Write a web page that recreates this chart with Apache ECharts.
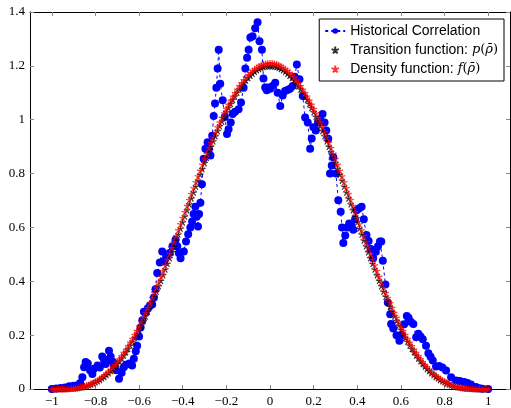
<!DOCTYPE html>
<html><head><meta charset="utf-8">
<script src="https://cdn.jsdelivr.net/npm/echarts@6/dist/echarts.min.js"></script>
<style>html,body{margin:0;padding:0;background:#fff}#c{width:511px;height:408px}</style>
</head><body><div id="c"></div>
<script>
// abscissa grid for the two fitted curves (step 0.01)
const rhoGrid = [-1,-0.99,-0.98,-0.97,-0.96,-0.95,-0.94,-0.93,-0.92,-0.91,-0.9,-0.89,-0.88,-0.87,-0.86,-0.85,-0.84,-0.83,-0.82,-0.81,-0.8,-0.79,-0.78,-0.77,-0.76,-0.75,-0.74,-0.73,-0.72,-0.71,-0.7,-0.69,-0.68,-0.67,-0.66,-0.65,-0.64,-0.63,-0.62,-0.61,-0.6,-0.59,-0.58,-0.57,-0.56,-0.55,-0.54,-0.53,-0.52,-0.51,-0.5,-0.49,-0.48,-0.47,-0.46,-0.45,-0.44,-0.43,-0.42,-0.41,-0.4,-0.39,-0.38,-0.37,-0.36,-0.35,-0.34,-0.33,-0.32,-0.31,-0.3,-0.29,-0.28,-0.27,-0.26,-0.25,-0.24,-0.23,-0.22,-0.21,-0.2,-0.19,-0.18,-0.17,-0.16,-0.15,-0.14,-0.13,-0.12,-0.11,-0.1,-0.09,-0.08,-0.07,-0.06,-0.05,-0.04,-0.03,-0.02,-0.01,0,0.01,0.02,0.03,0.04,0.05,0.06,0.07,0.08,0.09,0.1,0.11,0.12,0.13,0.14,0.15,0.16,0.17,0.18,0.19,0.2,0.21,0.22,0.23,0.24,0.25,0.26,0.27,0.28,0.29,0.3,0.31,0.32,0.33,0.34,0.35,0.36,0.37,0.38,0.39,0.4,0.41,0.42,0.43,0.44,0.45,0.46,0.47,0.48,0.49,0.5,0.51,0.52,0.53,0.54,0.55,0.56,0.57,0.58,0.59,0.6,0.61,0.62,0.63,0.64,0.65,0.66,0.67,0.68,0.69,0.7,0.71,0.72,0.73,0.74,0.75,0.76,0.77,0.78,0.79,0.8,0.81,0.82,0.83,0.84,0.85,0.86,0.87,0.88,0.89,0.9,0.91,0.92,0.93,0.94,0.95,0.96,0.97,0.98,0.99,1];

const transitionP = [0,0,0,0,0,0,0,0.001,0.001,0.002,0.002,0.003,0.004,0.006,0.007,0.009,0.012,0.014,0.017,0.021,0.025,0.029,0.034,0.040,0.045,0.052,0.059,0.067,0.075,0.084,0.093,0.103,0.114,0.125,0.137,0.149,0.162,0.176,0.190,0.205,0.220,0.236,0.253,0.270,0.287,0.305,0.324,0.343,0.362,0.382,0.402,0.423,0.444,0.465,0.486,0.508,0.530,0.552,0.574,0.596,0.619,0.641,0.664,0.686,0.708,0.730,0.752,0.774,0.796,0.817,0.839,0.859,0.880,0.900,0.920,0.939,0.958,0.976,0.994,1.011,1.028,1.044,1.059,1.074,1.087,1.101,1.113,1.125,1.136,1.146,1.155,1.164,1.171,1.178,1.184,1.189,1.193,1.196,1.198,1.199,1.200,1.199,1.198,1.196,1.193,1.189,1.184,1.178,1.171,1.164,1.155,1.146,1.136,1.125,1.113,1.101,1.087,1.074,1.059,1.044,1.028,1.011,0.994,0.976,0.958,0.939,0.920,0.900,0.880,0.859,0.839,0.817,0.796,0.774,0.752,0.730,0.708,0.686,0.664,0.641,0.619,0.596,0.574,0.552,0.530,0.508,0.486,0.465,0.444,0.423,0.402,0.382,0.362,0.343,0.324,0.305,0.287,0.270,0.253,0.236,0.220,0.205,0.190,0.176,0.162,0.149,0.137,0.125,0.114,0.103,0.093,0.084,0.075,0.067,0.059,0.052,0.045,0.040,0.034,0.029,0.025,0.021,0.017,0.014,0.012,0.009,0.007,0.006,0.004,0.003,0.002,0.002,0.001,0.001,0,0,0,0,0,0,0];

const densityF = [0,0,0,0,0,0,0,0.001,0.001,0.002,0.003,0.004,0.005,0.007,0.008,0.011,0.013,0.016,0.020,0.023,0.028,0.032,0.038,0.044,0.050,0.057,0.064,0.072,0.081,0.090,0.100,0.111,0.122,0.134,0.146,0.159,0.172,0.186,0.201,0.216,0.232,0.249,0.265,0.283,0.301,0.319,0.338,0.357,0.377,0.397,0.417,0.438,0.459,0.481,0.502,0.524,0.546,0.568,0.590,0.612,0.635,0.657,0.680,0.702,0.724,0.746,0.768,0.790,0.811,0.833,0.854,0.874,0.895,0.914,0.934,0.953,0.972,0.990,1.007,1.024,1.040,1.056,1.071,1.086,1.099,1.112,1.125,1.136,1.147,1.157,1.166,1.174,1.182,1.188,1.194,1.199,1.203,1.206,1.208,1.210,1.210,1.210,1.208,1.206,1.203,1.199,1.194,1.188,1.182,1.174,1.166,1.157,1.147,1.136,1.125,1.112,1.099,1.086,1.071,1.056,1.040,1.024,1.007,0.990,0.972,0.953,0.934,0.914,0.895,0.874,0.854,0.833,0.811,0.790,0.768,0.746,0.724,0.702,0.680,0.657,0.635,0.612,0.590,0.568,0.546,0.524,0.502,0.481,0.459,0.438,0.417,0.397,0.377,0.357,0.338,0.319,0.301,0.283,0.265,0.249,0.232,0.216,0.201,0.186,0.172,0.159,0.146,0.134,0.122,0.111,0.100,0.090,0.081,0.072,0.064,0.057,0.050,0.044,0.038,0.032,0.028,0.023,0.020,0.016,0.013,0.011,0.008,0.007,0.005,0.004,0.003,0.002,0.001,0.001,0,0,0,0,0,0,0];

// historical correlation
const histX = [-1.00,-0.98,-0.96,-0.94,-0.92,-0.90,-0.88,-0.87,-0.86,-0.852,-0.845,-0.835,-0.825,-0.814,-0.807,-0.79,-0.78,-0.769,-0.76,-0.753,-0.745,-0.738,-0.73,-0.72,-0.715,-0.705,-0.692,-0.68,-0.67,-0.66,-0.645,-0.632,-0.624,-0.615,-0.609,-0.60,-0.593,-0.585,-0.578,-0.57,-0.56,-0.55,-0.54,-0.532,-0.525,-0.517,-0.505,-0.494,-0.487,-0.475,-0.46,-0.447,-0.433,-0.425,-0.418,-0.41,-0.395,-0.385,-0.375,-0.365,-0.357,-0.35,-0.342,-0.336,-0.33,-0.325,-0.319,-0.312,-0.304,-0.296,-0.286,-0.28,-0.273,-0.265,-0.258,-0.252,-0.246,-0.24,-0.235,-0.228,-0.217,-0.207,-0.197,-0.19,-0.18,-0.171,-0.16,-0.144,-0.133,-0.121,-0.113,-0.105,-0.098,-0.09,-0.08,-0.068,-0.057,-0.048,-0.037,-0.03,-0.022,-0.015,-0.008,0.001,0.012,0.024,0.035,0.047,0.058,0.069,0.08,0.092,0.104,0.113,0.123,0.135,0.15,0.161,0.173,0.184,0.191,0.199,0.21,0.22,0.23,0.241,0.25,0.258,0.267,0.275,0.283,0.29,0.302,0.313,0.324,0.33,0.336,0.345,0.355,0.363,0.372,0.382,0.39,0.397,0.408,0.42,0.43,0.442,0.452,0.462,0.473,0.485,0.495,0.504,0.51,0.517,0.529,0.54,0.551,0.555,0.565,0.58,0.593,0.605,0.615,0.627,0.635,0.645,0.657,0.67,0.68,0.69,0.70,0.715,0.726,0.736,0.746,0.761,0.775,0.79,0.807,0.83,0.852,0.87,0.89,0.905,0.921,0.944,0.96,0.974,1.00];
const histY = [0.000,0.002,0.004,0.006,0.010,0.012,0.015,0.022,0.044,0.081,0.100,0.095,0.070,0.056,0.075,0.087,0.080,0.121,0.105,0.093,0.110,0.142,0.120,0.100,0.088,0.070,0.038,0.060,0.081,0.090,0.095,0.087,0.112,0.140,0.161,0.195,0.228,0.255,0.287,0.285,0.300,0.310,0.314,0.340,0.370,0.431,0.470,0.511,0.474,0.490,0.505,0.530,0.554,0.530,0.505,0.486,0.511,0.548,0.575,0.600,0.622,0.650,0.677,0.640,0.603,0.650,0.692,0.760,0.855,0.892,0.916,0.890,0.867,0.940,1.014,1.060,1.119,1.190,1.260,1.134,1.072,1.010,0.947,0.965,0.990,1.021,1.030,1.039,1.064,1.119,1.190,1.230,1.260,1.305,1.310,1.340,1.362,1.291,1.260,1.153,1.120,1.109,1.120,1.115,1.125,1.137,1.100,1.051,1.090,1.107,1.110,1.115,1.125,1.160,1.205,1.150,1.088,1.008,0.990,0.892,0.930,0.972,0.960,0.990,1.000,1.021,0.990,0.960,0.929,0.800,0.830,0.861,0.800,0.701,0.658,0.600,0.542,0.570,0.600,0.615,0.610,0.591,0.630,0.664,0.670,0.677,0.630,0.572,0.550,0.520,0.486,0.510,0.530,0.548,0.548,0.476,0.388,0.321,0.278,0.241,0.225,0.200,0.179,0.200,0.240,0.271,0.265,0.250,0.241,0.192,0.205,0.195,0.185,0.161,0.133,0.120,0.106,0.084,0.085,0.080,0.069,0.044,0.032,0.030,0.026,0.022,0.017,0.007,0.003,0.001,0.000];

const xTicks = [-1,-0.8,-0.6,-0.4,-0.2,0,0.2,0.4,0.6,0.8,1];
const yTicks = [0,0.2,0.4,0.6,0.8,1,1.2,1.4];
const seriesNames = ['Historical Correlation','Transition function: p(\u03C1\u0304)','Density function: f(\u03C1\u0304)'];

const star = 'path://M5 5L5 0M5 5L9.755 3.455M5 5L7.939 9.045M5 5L2.061 9.045M5 5L0.245 3.455';
const fmt = v => String(v).replace('-', '\u2212');
const tickFont = {fontFamily:'Liberation Serif', fontSize:13, color:'#000'};
const axLine = {show:true, onZero:false, lineStyle:{color:'#000', width:1}};
const tickStyle = {show:true, inside:true, length:4, lineStyle:{color:'#888', width:1}};

const chart = echarts.init(document.getElementById('c'), null, {renderer:'canvas'});
chart.setOption({
  animation:false,
  backgroundColor:'#fff',
  grid:{left:30, right:1, top:12, bottom:16},
  xAxis:[
    {type:'value', min:-1.1, max:1.1, position:'bottom', axisLine:axLine,
     axisTick:Object.assign({customValues:xTicks}, tickStyle),
     axisLabel:Object.assign({customValues:xTicks, formatter:fmt, margin:6}, tickFont),
     splitLine:{show:false}},
    {type:'value', min:-1.1, max:1.1, position:'top', axisLine:axLine,
     axisTick:Object.assign({customValues:xTicks}, tickStyle),
     axisLabel:{show:false}, splitLine:{show:false}}
  ],
  yAxis:[
    {type:'value', min:0, max:1.4, position:'left', axisLine:axLine,
     axisTick:Object.assign({customValues:yTicks}, tickStyle),
     axisLabel:Object.assign({customValues:yTicks, formatter:fmt, margin:5}, tickFont),
     splitLine:{show:false}},
    {type:'value', min:0, max:1.4, position:'right', axisLine:axLine,
     axisTick:Object.assign({customValues:yTicks}, tickStyle),
     axisLabel:{show:false}, splitLine:{show:false}}
  ],
  legend:{
    orient:'vertical', right:7, top:19, padding:[4,6,4,5], itemGap:3,
    itemWidth:20, itemHeight:7, backgroundColor:'#fff', borderColor:'#000', borderWidth:1,
    data:seriesNames,
    textStyle:{fontFamily:'Liberation Sans', fontSize:14, color:'#000', lineHeight:16,
      rich:{i:{fontFamily:'DejaVu Serif', fontStyle:'italic', fontSize:13, color:'#000'},
            r:{fontFamily:'DejaVu Serif', fontSize:13, color:'#000'}}},
    formatter: function(name){
      const m = name.match(/^(.*: )(\w)\((.+)\)$/);
      if(!m) return name;
      return m[1] + '{i|' + m[2] + '}{r|(}{i|' + m[3] + '}{r|)}';
    }
  },
  series:[
    {name:seriesNames[0], type:'line', xAxisIndex:0, yAxisIndex:0,
     data:histX.map((x,i)=>[x,histY[i]]), symbol:'circle', symbolSize:8, showAllSymbol:true,
     itemStyle:{color:'#0000ff'}, lineStyle:{color:'#0000ff', width:1, type:[3,3]}, z:2},
    {name:seriesNames[1], type:'scatter', xAxisIndex:0, yAxisIndex:0,
     data:rhoGrid.map((x,i)=>[x,transitionP[i]]), symbol:star, symbolSize:6.5,
     itemStyle:{color:'#000', borderColor:'#000', borderWidth:1.2}, z:3},
    {name:seriesNames[2], type:'scatter', xAxisIndex:0, yAxisIndex:0,
     data:rhoGrid.map((x,i)=>[x,densityF[i]]), symbol:star, symbolSize:6.5,
     itemStyle:{color:'#ff0000', borderColor:'#ff0000', borderWidth:1.2}, z:4}
  ]
});
</script></body></html>
